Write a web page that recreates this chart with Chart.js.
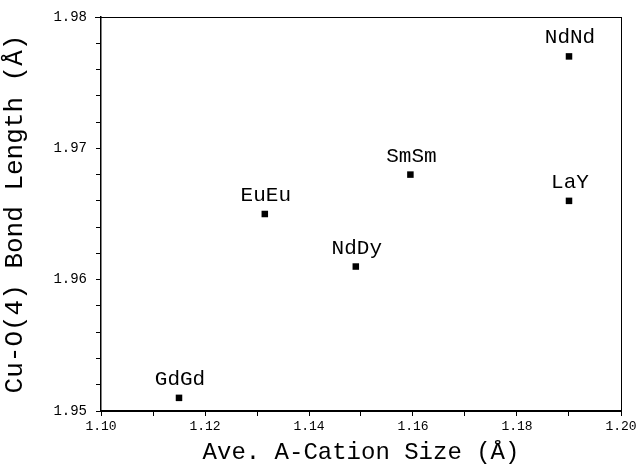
<!DOCTYPE html>
<html>
<head>
<meta charset="utf-8">
<script src="https://cdn.jsdelivr.net/npm/chart.js@4.4.0/dist/chart.umd.min.js"></script>
<style>
  html, body { margin: 0; padding: 0; background: #fff; }
  #wrap { width: 637px; height: 467px; }
</style>
</head>
<body>
<div id="wrap"><canvas id="chart" width="637" height="467"></canvas></div>
<script>
// data
const compounds = ['GdGd', 'EuEu', 'NdDy', 'SmSm', 'NdNd', 'LaY'];
const cationSize = [1.115, 1.1315, 1.149, 1.1595, 1.19, 1.19];
const bondLength = [1.951, 1.965, 1.961, 1.968, 1.977, 1.966];

const monoFont = '"Liberation Mono", "DejaVu Sans Mono", monospace';

// compound names above each marker
const pointLabels = {
    id: 'pointLabels',
    afterDatasetsDraw(chart) {
        const ctx = chart.ctx;
        const meta = chart.getDatasetMeta(0);
        ctx.save();
        ctx.font = '21px ' + monoFont;
        ctx.fillStyle = '#000';
        ctx.textAlign = 'center';
        ctx.textBaseline = 'alphabetic';
        meta.data.forEach((pt, i) => {
            ctx.fillText(compounds[i], pt.x + 1, pt.y - 13);
        });
        ctx.restore();
    }
};

// top and right edges of the box
const frame = {
    id: 'frame',
    afterDraw(chart) {
        const { ctx, chartArea: a } = chart;
        ctx.save();
        ctx.strokeStyle = '#000';
        ctx.lineWidth = 1;
        ctx.beginPath();
        ctx.moveTo(a.left - 6, a.top + 0.5);
        ctx.lineTo(a.right, a.top + 0.5);
        ctx.moveTo(a.right + 0.5, a.top);
        ctx.lineTo(a.right + 0.5, a.bottom);
        ctx.stroke();
        ctx.restore();
    }
};

new Chart(document.getElementById('chart'), {
    type: 'scatter',
    data: {
        datasets: [{
            data: cationSize.map((x, i) => ({ x: x, y: bondLength[i] })),
            pointStyle: 'rect',
            pointRadius: 4.6,
            backgroundColor: '#000',
            borderColor: '#000',
            borderWidth: 0
        }]
    },
    options: {
        responsive: false,
        animation: false,
        layout: { padding: { top: 17, right: 16, left: 0, bottom: 0 } },
        plugins: {
            legend: { display: false },
            tooltip: { enabled: false }
        },
        scales: {
            x: {
                type: 'linear',
                min: 1.10,
                max: 1.20,
                afterFit: s => { s.height = 56; s.paddingRight = 0; s.paddingLeft = 0; },
                ticks: {
                    stepSize: 0.01,
                    autoSkip: false,
                    maxRotation: 0,
                    padding: 3,
                    color: '#000',
                    font: { family: monoFont, size: 13 },
                    callback: v => Math.round(v * 100) % 2 === 0 ? v.toFixed(2) : ''
                },
                grid: { drawOnChartArea: false, tickLength: 5, tickColor: '#000' },
                border: { display: true, color: '#000', width: 2 },
                title: {
                    display: true,
                    text: 'Ave. A-Cation Size (Å)',
                    color: '#000',
                    font: { family: monoFont, size: 24 },
                    padding: { top: 0, bottom: 0 }
                }
            },
            y: {
                min: 1.95,
                max: 1.98,
                afterFit: s => { s.width = 101; s.paddingTop = 0; s.paddingBottom = 0; },
                ticks: {
                    stepSize: 0.002,
                    autoSkip: false,
                    padding: 9,
                    color: '#000',
                    font: { family: monoFont, size: 14 },
                    callback: v => Math.round(v * 1000) % 10 === 0 ? v.toFixed(2) : ''
                },
                grid: { drawOnChartArea: false, tickLength: 5, tickColor: '#000' },
                border: { display: true, color: '#000', width: 1.5 },
                title: {
                    display: true,
                    text: 'Cu-O(4) Bond Length (Å)',
                    color: '#000',
                    font: { family: monoFont, size: 26 },
                    padding: { top: 0, bottom: 0 }
                }
            }
        }
    },
    plugins: [pointLabels, frame]
});
</script>
</body>
</html>
